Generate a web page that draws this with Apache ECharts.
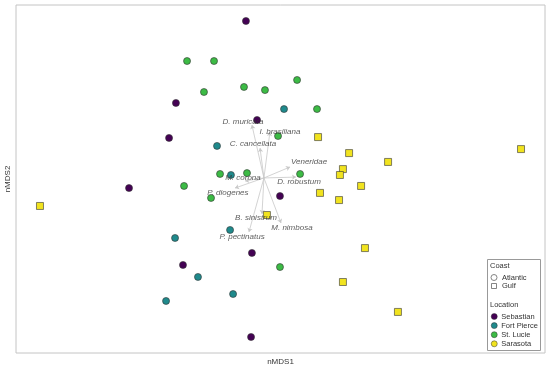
<!DOCTYPE html>
<html>
<head>
<meta charset="utf-8">
<script src="https://cdn.jsdelivr.net/npm/echarts@6/dist/echarts.min.js"></script>
<style>html,body{margin:0;padding:0;background:#fff}#c{width:550px;height:367px}</style>
</head>
<body>
<div id="c"></div>
<script>
// nMDS coordinates per location
const sebastian = [[-0.196,0.908],[-0.593,0.437],[-0.133,0.339],[-0.632,0.236],[-0.859,-0.052],[-0.003,-0.098],[-0.162,-0.425],[-0.553,-0.494],[-0.167,-0.908]];
const fortPierce = [[0.020,0.402],[-0.360,0.190],[-0.281,0.023],[-0.286,-0.293],[-0.598,-0.339],[-0.468,-0.563],[-0.269,-0.661],[-0.649,-0.701]];
const stLucie = [[-0.530,0.678],[-0.377,0.678],[-0.434,0.500],[-0.207,0.529],[-0.088,0.511],[0.094,0.569],[0.207,0.402],[-0.014,0.247],[-0.343,0.029],[-0.190,0.034],[0.111,0.029],[-0.547,-0.040],[-0.394,-0.109],[-0.003,-0.506]];
const sarasota = [[0.213,0.241],[0.389,0.149],[0.610,0.098],[1.364,0.172],[0.354,0.057],[0.337,0.023],[0.457,-0.040],[0.224,-0.080],[0.332,-0.121],[-0.077,-0.207],[-1.364,-0.155],[0.479,-0.397],[0.354,-0.592],[0.666,-0.764]];

// species vectors (envfit arrows)
const vectorOrigin = [-0.094, 0.006];
const vectorNames = ["D. muricata","I. brasiliana","C. cancellata","Veneridae","D. robustum","M. corona","P. diogenes","B. sinistrum","M. nimbosa","P. pectinatus"];
const vectorTips = [[-0.162,0.310],[-0.060,0.270],[-0.116,0.178],[0.054,0.069],[0.088,0.011],[-0.201,-0.011],[-0.258,-0.052],[-0.105,-0.201],[0.003,-0.253],[-0.179,-0.305]];
const vectorLabelPos = [[-0.213,0.328],[-0.003,0.270],[-0.156,0.201],[0.162,0.098],[0.105,-0.017],[-0.213,0.006],[-0.298,-0.080],[-0.139,-0.224],[0.065,-0.282],[-0.218,-0.333]];

const locations = ["Sebastian","Fort Pierce","St. Lucie","Sarasota"];
const colors = ["#440154","#1f8a8c","#3cbb45","#f1e31f"];

const chart = echarts.init(document.getElementById('c'));
const fontFam = '"Liberation Sans", Arial, sans-serif';
const pointSeries = [sebastian, fortPierce, stLucie, sarasota].map((d,i)=>({
  name: locations[i], type:'scatter', data:d,
  symbol: i===3 ? 'rect' : 'circle', symbolSize: 7,
  itemStyle:{color:colors[i], borderColor:'#333', borderWidth:0.6, opacity:1},
  z:3
}));

chart.setOption({
  animation:false,
  grid:{left:16, right:5, top:5, bottom:14, show:true, borderColor:'#c4c4c4', borderWidth:1, outerBoundsMode:'none', containLabel:false},
  xAxis:{type:'value', min:-1.5, max:1.5, axisLine:{show:false}, axisTick:{show:false}, axisLabel:{show:false}, splitLine:{show:false},
    name:'nMDS1', nameLocation:'middle', nameGap:5, nameTextStyle:{fontSize:8, color:'#333', fontFamily:fontFam}},
  yAxis:{type:'value', min:-1, max:1, axisLine:{show:false}, axisTick:{show:false}, axisLabel:{show:false}, splitLine:{show:false},
    name:'nMDS2', nameLocation:'middle', nameGap:4, nameTextStyle:{fontSize:8, color:'#333', fontFamily:fontFam}},
  legend:{
    data: locations.map(n=>({name:n, icon:'circle', itemStyle:{borderWidth:0.5}})),
    orient:'vertical', left:491, top:312.5, padding:0, itemWidth:6, itemHeight:6, itemGap:1.1,
    textStyle:{fontSize:7.5, color:'#333', fontFamily:fontFam, padding:[0,0,0,-1]},
    selectedMode:false, z:20
  },
  graphic:[
    {type:'rect', shape:{x:487.5, y:259.5, width:53, height:91}, style:{fill:'#fff', stroke:'#999', lineWidth:1}, z:10},
    {type:'text', x:490, y:266, style:{text:'Coast', fontSize:7.5, fill:'#333', fontFamily:fontFam, verticalAlign:'middle'}, z:11},
    {type:'circle', shape:{cx:494, cy:277.5, r:3}, style:{fill:'#fff', stroke:'#666', lineWidth:0.8}, z:11},
    {type:'text', x:502, y:277.5, style:{text:'Atlantic', fontSize:7.5, fill:'#333', fontFamily:fontFam, verticalAlign:'middle'}, z:11},
    {type:'rect', shape:{x:491.5, y:283.5, width:5, height:5}, style:{fill:'#fff', stroke:'#666', lineWidth:0.8}, z:11},
    {type:'text', x:502, y:286, style:{text:'Gulf', fontSize:7.5, fill:'#333', fontFamily:fontFam, verticalAlign:'middle'}, z:11},
    {type:'text', x:490, y:305, style:{text:'Location', fontSize:7.5, fill:'#333', fontFamily:fontFam, verticalAlign:'middle'}, z:11}
  ],
  series:[
    {type:'lines', coordinateSystem:'cartesian2d', polyline:false,
      data: vectorTips.map(t=>({coords:[vectorOrigin, t]})),
      symbol:['none','arrow'], symbolSize:[0,4],
      lineStyle:{color:'#c8c8c8', width:0.8, opacity:1}, z:2, silent:true},
    ...pointSeries,
    {type:'scatter', name:'labels', data: vectorLabelPos.map((p,i)=>({value:p, name:vectorNames[i]})),
      symbolSize:0, silent:true, z:5,
      label:{show:true, position:'inside', formatter:'{b}', fontSize:8, fontStyle:'italic', color:'#333', fontFamily:fontFam}}
  ]
});
</script>
</body>
</html>
